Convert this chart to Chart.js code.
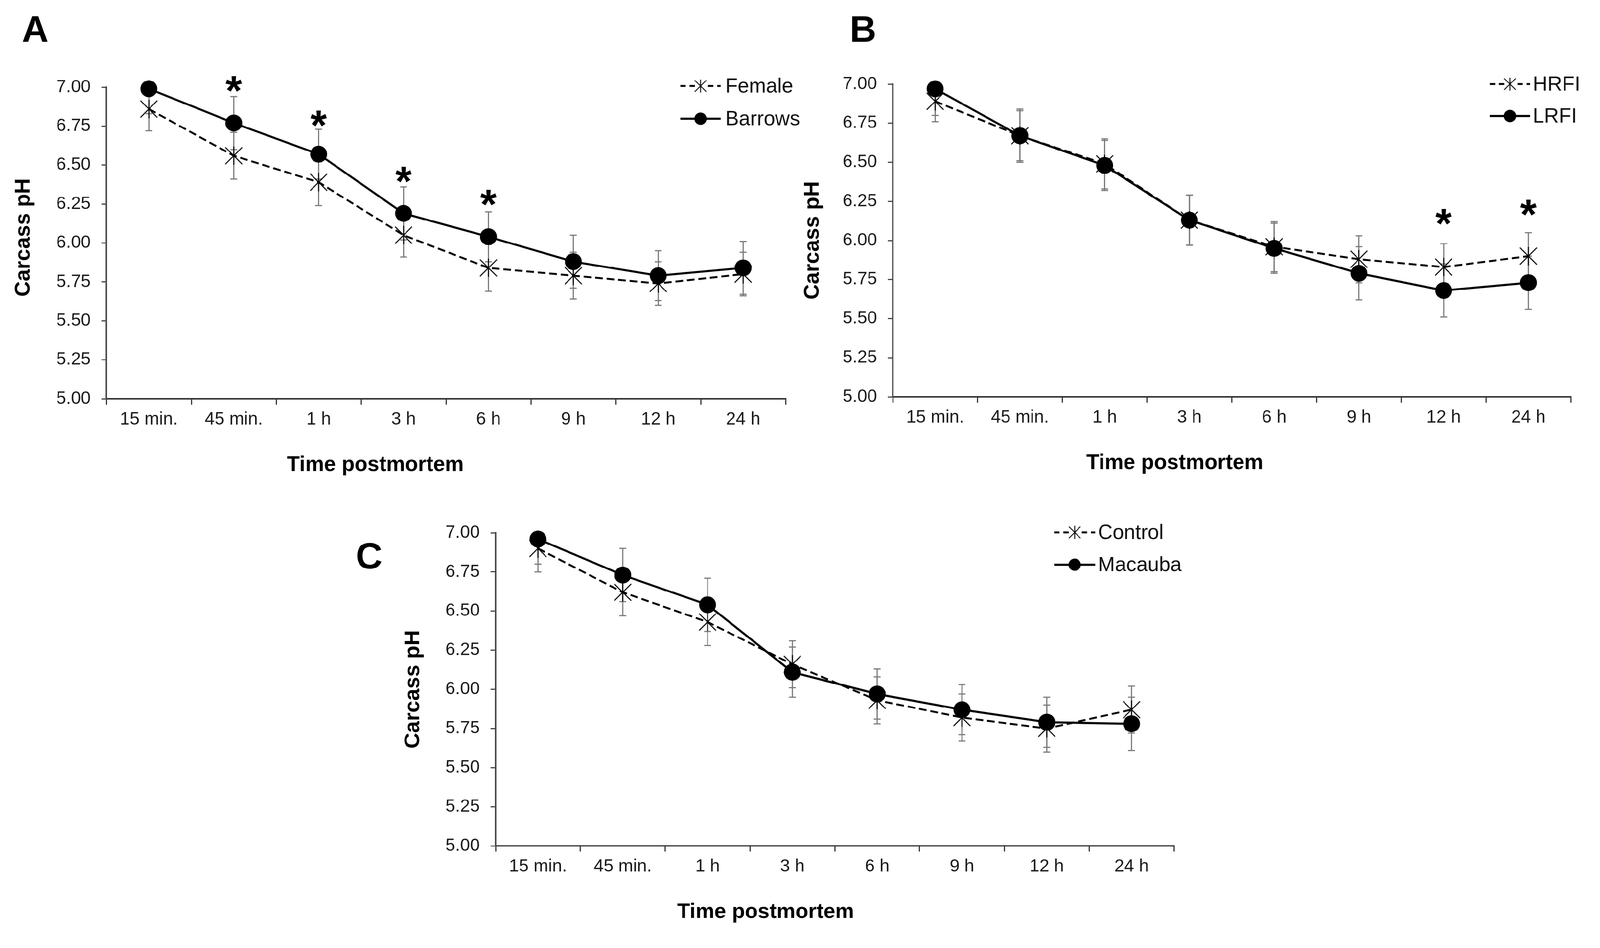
<!DOCTYPE html>
<html>
<head>
<meta charset="utf-8">
<script src="https://cdn.jsdelivr.net/npm/chart.js@4.4.1/dist/chart.umd.min.js"></script>
<style>
  html, body { margin: 0; padding: 0; background: #fff; overflow: hidden; }
  #page { position: absolute; left: 0; top: 0; width: 4165px; height: 2427px; transform-origin: 0 0; background: #fff; }
  canvas { position: absolute; left: 0; top: 0; }
</style>
</head>
<body>
<div id="page">
  <canvas id="chartA" width="4165" height="2427"></canvas>
  <canvas id="chartB" width="4165" height="2427"></canvas>
  <canvas id="chartC" width="4165" height="2427"></canvas>
</div>
<script>
// time points (x axis)
var times = ['15 min.', '45 min.', '1 h', '3 h', '6 h', '9 h', '12 h', '24 h'];
var yTicks = [5.00, 5.25, 5.50, 5.75, 6.00, 6.25, 6.50, 6.75, 7.00];

// panel A: sex
var female = [6.86, 6.56, 6.39, 6.05, 5.84, 5.79, 5.74, 5.80];
var femaleSE = [0.14, 0.15, 0.15, 0.14, 0.15, 0.15, 0.14, 0.14];
var barrows = [6.99, 6.77, 6.57, 6.19, 6.04, 5.88, 5.79, 5.84];
var barrowsSE = [0.16, 0.17, 0.16, 0.17, 0.16, 0.17, 0.16, 0.17];
var sigA = [null, 7.02, 6.80, 6.44, 6.29, null, null, null];

// panel B: residual feed intake
var hrfi = [6.89, 6.67, 6.49, 6.13, 5.96, 5.88, 5.83, 5.90];
var hrfiSE = [0.13, 0.16, 0.16, 0.16, 0.16, 0.15, 0.15, 0.15];
var lrfi = [6.97, 6.67, 6.48, 6.13, 5.95, 5.79, 5.68, 5.73];
var lrfiSE = [0.17, 0.17, 0.16, 0.16, 0.16, 0.17, 0.17, 0.17];
var sigB = [null, null, null, null, null, null, 6.15, 6.21];

// panel C: diet
var control = [6.90, 6.62, 6.43, 6.16, 5.93, 5.82, 5.75, 5.87];
var controlSE = [0.15, 0.15, 0.15, 0.15, 0.15, 0.15, 0.15, 0.15];
var macauba = [6.96, 6.73, 6.54, 6.11, 5.97, 5.87, 5.79, 5.78];
var macaubaSE = [0.16, 0.17, 0.17, 0.16, 0.16, 0.16, 0.16, 0.17];
var sigC = [null, null, null, null, null, null, null, null];

// fit the 4165 wide layout into whatever the window really is
var fit = window.innerWidth / 4165;
document.getElementById('page').style.transform = 'scale(' + fit + ')';

var FONT = '"Liberation Sans", Arial, Helvetica, sans-serif';
Chart.defaults.font.family = FONT;

// excel style star marker (X with vertical bar)
function starMarker(size, lw) {
  var c = document.createElement('canvas');
  c.width = size; c.height = size;
  var g = c.getContext('2d');
  g.strokeStyle = '#000';
  g.lineWidth = lw;
  var m = 2;
  g.beginPath();
  g.moveTo(m, m); g.lineTo(size - m, size - m);
  g.moveTo(size - m, m); g.lineTo(m, size - m);
  g.moveTo(size / 2, 0); g.lineTo(size / 2, size);
  g.stroke();
  return c;
}
var starBig = starMarker(48, 2.6);
var starSmall = starMarker(34, 2.4);

function dashedSet(label, data, se) {
  return {
    label: label, data: data, se: se, order: 2, clip: false,
    borderColor: '#000', borderWidth: 5, borderDash: [20, 10],
    pointStyle: starBig, legendStyle: starSmall,
    pointRadius: 24, pointHoverRadius: 24, tension: 0, fill: false
  };
}
function solidSet(label, data, se) {
  return {
    label: label, data: data, se: se, order: 1, clip: false,
    borderColor: '#000', borderWidth: 5.5,
    pointStyle: 'circle', pointRadius: 22, pointHoverRadius: 22,
    pointBackgroundColor: '#000', pointBorderColor: '#000', pointBorderWidth: 0,
    tension: 0, fill: false
  };
}

var extras = {
  id: 'extras',
  beforeDatasetsDraw: function (chart) {
    var ctx = chart.ctx, y = chart.scales.y, a = chart.chartArea;
    ctx.save();
    // error bars are cut at the plot area, as in the original
    ctx.beginPath();
    ctx.rect(a.left, a.top, a.right - a.left, a.bottom - a.top);
    ctx.clip();
    ctx.strokeStyle = '#7a7a7a';
    ctx.lineWidth = 3;
    chart.data.datasets.forEach(function (ds, di) {
      var meta = chart.getDatasetMeta(di);
      ds.data.forEach(function (v, i) {
        var px = meta.data[i].x;
        var top = y.getPixelForValue(v + ds.se[i]);
        var bot = y.getPixelForValue(v - ds.se[i]);
        ctx.beginPath();
        ctx.moveTo(px, top); ctx.lineTo(px, bot);
        ctx.moveTo(px - 9, top); ctx.lineTo(px + 9, top);
        ctx.moveTo(px - 9, bot); ctx.lineTo(px + 9, bot);
        ctx.stroke();
      });
    });
    ctx.restore();
  },
  afterDraw: function (chart) {
    var o = chart.options.plugins.extras;
    var ctx = chart.ctx, area = chart.chartArea;
    var xs = chart.scales.x, ys = chart.scales.y;
    ctx.save();

    // significance asterisks
    ctx.fillStyle = '#000';
    ctx.font = 'bold 100px ' + FONT;
    var mm = ctx.measureText('*');
    var k = 43 / (mm.actualBoundingBoxLeft + mm.actualBoundingBoxRight);
    ctx.font = 'bold ' + Math.round(100 * k) + 'px ' + FONT;
    mm = ctx.measureText('*');
    var w = mm.actualBoundingBoxLeft + mm.actualBoundingBoxRight;
    var h = mm.actualBoundingBoxAscent + mm.actualBoundingBoxDescent;
    ctx.textAlign = 'left';
    ctx.textBaseline = 'alphabetic';
    o.sig.forEach(function (v, i) {
      if (v === null) return;
      var cx = xs.getPixelForValue(i);
      var cy = ys.getPixelForValue(v);
      ctx.fillText('*', cx - w / 2 + mm.actualBoundingBoxLeft, cy - h / 2 + mm.actualBoundingBoxAscent);
    });

    // legend: line sample with marker, then label
    chart.data.datasets.forEach(function (ds, di) {
      var ry = o.legend.rows[di];
      var x0 = o.legend.x0, x1 = o.legend.x1;
      ctx.strokeStyle = '#000';
      ctx.lineWidth = ds.borderWidth;
      ctx.setLineDash(ds.borderDash ? [14, 10] : []);
      ctx.beginPath(); ctx.moveTo(x0, ry); ctx.lineTo(x1, ry); ctx.stroke();
      ctx.setLineDash([]);
      var mx = (x0 + x1) / 2;
      if (ds.legendStyle) {
        ctx.fillStyle = '#fff';
        ctx.fillRect(mx - 14, ry - 8, 28, 16);
        ctx.drawImage(ds.legendStyle, mx - ds.legendStyle.width / 2, ry - ds.legendStyle.height / 2);
      } else {
        ctx.fillStyle = '#000';
        ctx.beginPath(); ctx.arc(mx, ry, 16, 0, Math.PI * 2); ctx.fill();
      }
      ctx.fillStyle = '#111';
      ctx.font = '53px ' + FONT;
      ctx.textAlign = 'left';
      ctx.textBaseline = 'middle';
      ctx.fillText(ds.label, o.legend.tx, ry + 2);
    });

    // axis titles
    ctx.fillStyle = '#000';
    ctx.font = 'bold 55px ' + FONT;
    ctx.textAlign = 'center';
    ctx.textBaseline = 'alphabetic';
    ctx.fillText('Time postmortem', area.left + o.xTitleDx, area.bottom + 188);
    ctx.save();
    ctx.translate(area.left + o.yTitleDx, (area.top + area.bottom) / 2 + o.yTitleDy);
    ctx.rotate(-Math.PI / 2);
    ctx.font = 'bold 56px ' + FONT;
    ctx.textBaseline = 'middle';
    ctx.fillText('Carcass pH', 0, 0);
    ctx.restore();

    // panel letter
    ctx.font = 'bold 96px ' + FONT;
    ctx.textAlign = 'left';
    ctx.textBaseline = 'alphabetic';
    ctx.fillText(o.letter.text, o.letter.x, o.letter.y);
    ctx.restore();
  }
};

function makeChart(id, sets, sig, pad, extra) {
  extra.sig = sig;
  return new Chart(document.getElementById(id).getContext('2d'), {
    type: 'line',
    data: { labels: times, datasets: sets },
    plugins: [extras],
    options: {
      responsive: false,
      devicePixelRatio: 1,
      animation: false,
      events: [],
      layout: { padding: pad },
      plugins: {
        legend: { display: false },
        tooltip: { enabled: false },
        extras: extra
      },
      scales: {
        x: {
          type: 'category',
          offset: true,
          afterFit: function (s) { s.height = 100; },
          grid: { offset: true, drawOnChartArea: false, drawTicks: true, tickLength: 15, color: '#333', lineWidth: 3 },
          border: { display: true, color: '#333', width: 4 },
          ticks: { color: '#1a1a1a', font: { size: 46 }, padding: 12, maxRotation: 0, autoSkip: false }
        },
        y: {
          min: 5, max: 7,
          afterFit: function (s) { s.width = 160; },
          afterBuildTicks: function (s) { s.ticks = yTicks.map(function (v) { return { value: v }; }); },
          grid: { drawOnChartArea: false, drawTicks: true, tickLength: 13, color: '#444', lineWidth: 3 },
          border: { display: true, color: '#4a4a4a', width: 4 },
          ticks: { color: '#1a1a1a', font: { size: 46 }, padding: 28,
            callback: function (v) { return Number(v).toFixed(2); } }
        }
      }
    }
  });
}

// plot areas: A 277-2045 x 227-1038, B 2324-4089 x 219-1033, C 1290-3056 x 1387-2202
makeChart('chartA',
  [dashedSet('Female', female, femaleSE), solidSet('Barrows', barrows, barrowsSE)],
  sigA,
  { left: 117, right: 2120, top: 227, bottom: 1289 },
  { letter: { text: 'A', x: 57, y: 109 },
    legend: { x0: 1771, x1: 1876, tx: 1888, rows: [224, 309] },
    xTitleDx: 700, yTitleDx: -215, yTitleDy: -14 });

makeChart('chartB',
  [dashedSet('HRFI', hrfi, hrfiSE), solidSet('LRFI', lrfi, lrfiSE)],
  sigB,
  { left: 2164, right: 76, top: 219, bottom: 1294 },
  { letter: { text: 'B', x: 2212, y: 109 },
    legend: { x0: 3878, x1: 3983, tx: 3990, rows: [219, 302] },
    xTitleDx: 734, yTitleDx: -208, yTitleDy: 0 });

makeChart('chartC',
  [dashedSet('Control', control, controlSE), solidSet('Macauba', macauba, macaubaSE)],
  sigC,
  { left: 1130, right: 1109, top: 1387, bottom: 125 },
  { letter: { text: 'C', x: 926, y: 1480 },
    legend: { x0: 2744, x1: 2851, tx: 2858, rows: [1386, 1470] },
    xTitleDx: 703, yTitleDx: -214, yTitleDy: 0 });
</script>
</body>
</html>
